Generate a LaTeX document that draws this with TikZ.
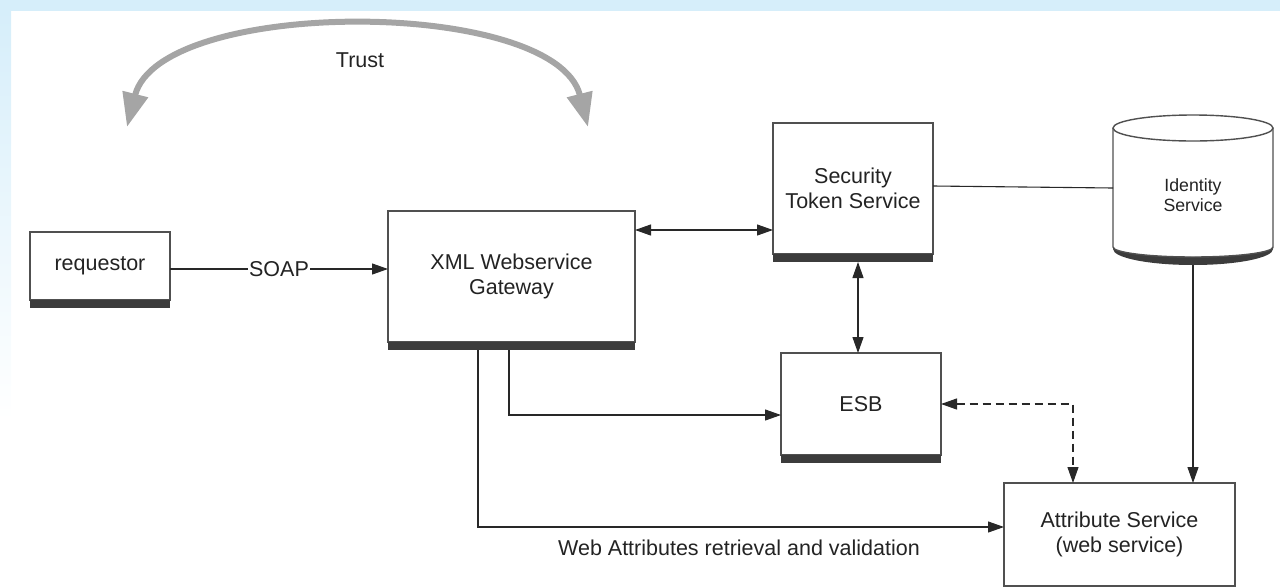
\documentclass[tikz,border=0pt]{standalone}
\usepackage{fontspec}
\setmainfont{Liberation Sans}
\usetikzlibrary{arrows.meta,calc}
\definecolor{bgblue}{RGB}{214,238,250}
\definecolor{boxline}{RGB}{80,80,80}
\definecolor{shadowc}{RGB}{60,60,60}
\definecolor{lnc}{RGB}{40,40,40}
\definecolor{trustc}{RGB}{165,165,165}
\definecolor{txtc}{RGB}{35,35,35}
\begin{document}
\begin{tikzpicture}[x=1pt,y=-1pt,
  mainfont/.style={font=\fontsize{21.5}{25}\selectfont, text=txtc},
  box/.style={draw=boxline, line width=1.4pt, fill=white, inner sep=0pt, outer sep=0pt, align=center, mainfont},
  conn/.style={draw=lnc, line width=1.1pt},
  tipend/.style={-{Triangle[length=16pt,width=11pt]}},
  tipboth/.style={{Triangle[length=16pt,width=11pt]}-{Triangle[length=16pt,width=11pt]}},
  shadowfill/.style={fill=shadowc}
]
\useasboundingbox (0,0) rectangle (1280,587);
% background
\fill[bgblue] (0,0) rectangle (1280,11);
\shade[top color=bgblue, bottom color=white] (0,11) rectangle (11,420);

% Trust arc
\draw[trustc, line width=6pt, {Triangle[length=34pt,width=25pt]}-{Triangle[length=34pt,width=25pt]}]
  (127,127) .. controls (160,-3) and (555,-3) .. (588,127);
\node[mainfont] (trust) at (360,60) {Trust};

% boxes
\node[box, minimum width=140pt, minimum height=68pt] (req) at (100,266) {requestor};
\node[box, minimum width=247pt, minimum height=131pt] (gw) at (511.5,276.5) {XML Webservice\\Gateway};
\node[box, minimum width=160pt, minimum height=131pt] (sts) at (853,188.5) {Security\\Token Service};
\node[box, minimum width=160pt, minimum height=102pt] (esb) at (861,404) {ESB};
\node[box, minimum width=231pt, minimum height=103pt] (attr) at (1119.5,534.5) {Attribute Service\\(web service)};

% shadows
\fill[shadowfill] (req.south west) rectangle ([yshift=-8pt]req.south east);
\fill[shadowfill] (gw.south west) rectangle ([yshift=-8pt]gw.south east);
\fill[shadowfill] (sts.south west) rectangle ([yshift=-8pt]sts.south east);
\fill[shadowfill] (esb.south west) rectangle ([yshift=-8pt]esb.south east);
\coordinate (gwsb) at ([yshift=-8pt]gw.south);
\coordinate (stssb) at ([yshift=-8pt]sts.south);

% identity cylinder
\path[fill=white] (1113,128) -- (1113,247) arc[start angle=180,end angle=360,x radius=80pt,y radius=10pt] -- (1273,128) -- cycle;
\fill[shadowfill] (1113,247) arc[start angle=180,end angle=360,x radius=80pt,y radius=10pt]
  -- (1273,249) arc[start angle=0,end angle=-180,x radius=80pt,y radius=16pt] -- cycle;
\draw[boxline, line width=1.4pt] (1113,128) -- (1113,247) arc[start angle=180,end angle=360,x radius=80pt,y radius=10pt] -- (1273,128);
\draw[boxline, line width=1.4pt, fill=white] (1193,128) ellipse [x radius=80pt, y radius=13pt];
\node[font=\fontsize{17.7}{20}\selectfont, text=txtc, align=center] (ids) at (1193,195) {Identity\\Service};
\coordinate (idleft) at (1113,188);
\coordinate (idbot) at (1193,265);

% connectors
\draw[conn, tipend] (req.east |- 0,269) -- (gw.west |- 0,269)
  node[midway, fill=white, inner sep=1pt, mainfont] (soap) {SOAP};
\draw[conn, tipboth] (gw.east |- 0,230) -- (sts.west |- 0,230);
\draw[conn, tipboth] (stssb -| 858,0) -- (esb.north -| 858,0);
\draw[conn, tipend] (gwsb -| 509,0) |- (esb.west |- 0,415);
\draw[conn, tipboth, dash pattern=on 8pt off 5pt] (esb.east |- 0,404) -| (attr.north -| 1073,0);
\draw[conn, tipend] (gwsb -| 478,0) |- (attr.west |- 0,527);
\node[mainfont] (lbl) at (739,548) {Web Attributes retrieval and validation};
\draw[conn] (sts.east |- 0,186) -- (idleft);
\draw[conn, tipend] (idbot) -- (attr.north -| idbot);
\end{tikzpicture}
\end{document}
